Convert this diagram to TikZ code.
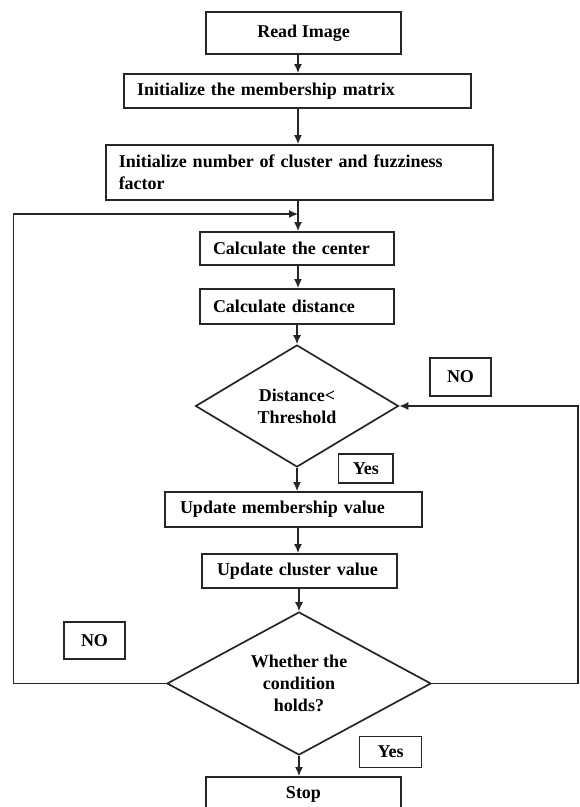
\documentclass[tikz,border=0pt]{standalone}
\usepackage{fontspec}
\setmainfont{Liberation Serif}
\usetikzlibrary{shapes.geometric,arrows.meta}

\begin{document}
\begin{tikzpicture}[x=1pt,y=-1pt,>={Latex[length=9pt,width=8pt]},
    font=\fontsize{18}{22}\selectfont\bfseries]
    \tikzstyle{box}=[draw=black!85, line width=1.9pt, inner xsep=13pt, inner ysep=0pt, align=left]
    \tikzstyle{cbox}=[draw=black!85, line width=1.9pt, inner sep=0pt, align=center]
    \tikzstyle{dec}=[draw=black!85, line width=1.7pt, shape=diamond, inner sep=0pt, align=center]
    \tikzstyle{tag}=[draw=black!85, line width=1.3pt, inner sep=0pt, align=center]
    \tikzstyle{line}=[line width=1.3pt, black!85]

    \useasboundingbox (0,0) rectangle (580,807);
    \clip (0,0) rectangle (580,807);

    \node[cbox, minimum width=195pt, minimum height=42pt] (read) at (303.5,33) {Read Image};

    \node[box, text width=321pt, minimum height=34pt] (initm) at (297.5,91)
    {Initialize the membership matrix};

    \node[box, text width=361pt, minimum height=55pt] (initn) at (299.25,172.5)
    {Initialize number of cluster and fuzziness\\factor};

    \node[box, text width=168pt, minimum height=33pt] (calcc) at (297,248.5)
    {Calculate the center};

    \node[box, text width=168pt, minimum height=35pt] (calcd) at (297,306.5)
    {Calculate distance};

    \node[dec, aspect=1.66, minimum width=203pt, minimum height=122pt] (dec1) at (297,406)
    {Distance<\\Threshold};

    \node[tag, minimum width=61pt, minimum height=38pt] (no1) at (460.5,377) {NO};

    \node[tag, minimum width=54.5pt, minimum height=29pt] (yes1) at (365.75,468.5) {Yes};

    \node[box, inner xsep=15pt, text width=227pt, minimum height=35pt] (updm) at (293.5,509.5)
    {Update membership value};

    \node[box, inner xsep=15pt, text width=165pt, minimum height=34pt] (updc) at (299.5,571)
    {Update cluster value};

    \node[dec, aspect=1.85, minimum width=264pt, minimum height=143pt] (dec2) at (299,683.5)
    {Whether the\\condition\\holds?};

    \node[tag, minimum width=61pt, minimum height=37pt] (no2) at (94.5,640.5) {NO};

    \node[tag, minimum width=62pt, minimum height=31pt] (yes2) at (390.5,752) {Yes};

    \node[cbox, minimum width=195pt, minimum height=34pt] (stop) at (303.5,794) {Stop};

    \coordinate (axis) at (298,0);
    \coordinate (merge) at (298,214);

    \draw[line,->] (axis |- read.south) -- (axis |- initm.north);
    \draw[line,->] (axis |- initm.south) -- (axis |- initn.north);
    \draw[line,->] (axis |- initn.south) -- (axis |- calcc.north);
    \draw[line,->] (axis |- calcc.south) -- (axis |- calcd.north);
    \draw[line,->] (dec1.north |- calcd.south) -- (dec1.north);
    \draw[line,->] (dec1.south) -- (dec1.south |- updm.north);
    \draw[line,->] (axis |- updm.south) -- (axis |- updc.north);
    \draw[line,->] (dec2.north |- updc.south) -- (dec2.north);
    \draw[line,->] (dec2.south) -- (dec2.south |- stop.north);
    \draw[line,->] (dec2.west) -- ++(-153,0) |- (merge);
    \draw[line,->] (dec2.east) -- ++(146,0) |- (dec1.east);
\end{tikzpicture}
\end{document}
